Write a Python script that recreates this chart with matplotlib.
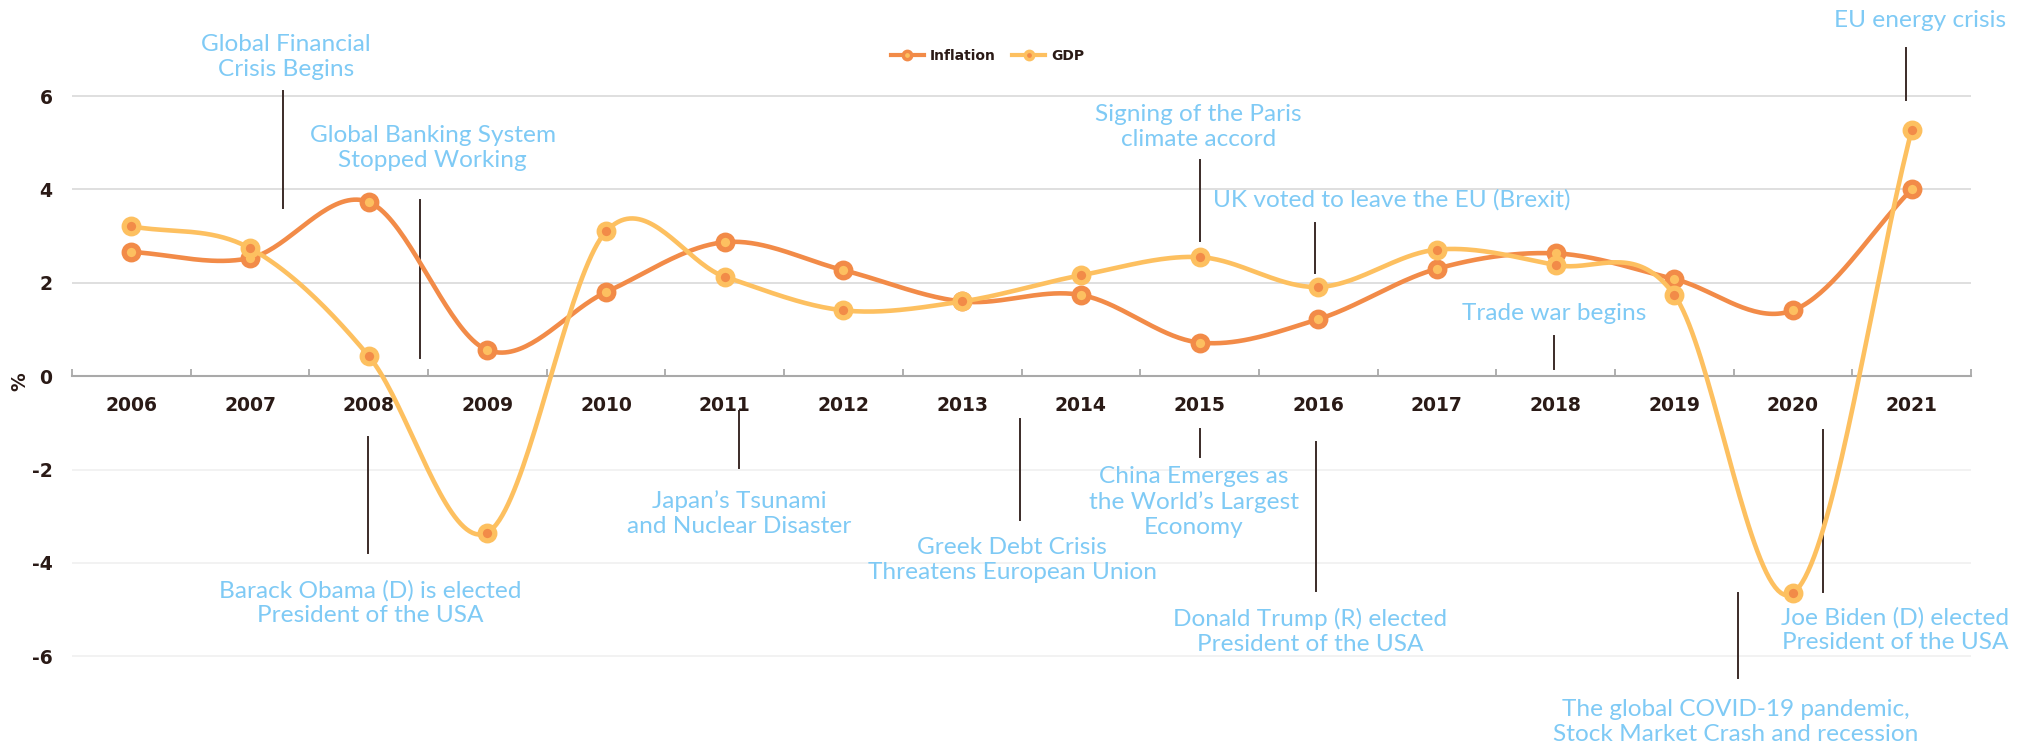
import numpy as np
import matplotlib
matplotlib.use("Agg")
import matplotlib.pyplot as plt
from matplotlib.lines import Line2D

# values
years = ["2006", "2007", "2008", "2009", "2010", "2011", "2012", "2013",
         "2014", "2015", "2016", "2017", "2018", "2019", "2020", "2021"]
inflation = [2.66, 2.53, 3.73, 0.56, 1.80, 2.87, 2.27, 1.60,
             1.74, 0.72, 1.22, 2.30, 2.63, 2.08, 1.41, 4.00]
gdp = [3.21, 2.74, 0.43, -3.35, 3.10, 2.13, 1.41, 1.60,
       2.16, 2.55, 1.91, 2.71, 2.38, 1.74, -4.65, 5.27]
y_ticks = [-6, -4, -2, 0, 2, 4, 6]

# (text, text x, text y, leader x, leader y0, leader y1)
events = [
    ("Global Financial\nCrisis Begins", 1.30, 6.84, 1.28, 6.11, 3.60),
    ("Global Banking System\nStopped Working", 2.54, 4.89, 2.43, 3.77, 0.39),
    ("Barack Obama (D) is elected\nPresident of the USA", 2.01, -4.86, 1.99, -1.31, -3.79),
    ("Japan’s Tsunami\nand Nuclear Disaster", 5.12, -2.95, 5.12, -0.75, -1.97),
    ("Greek Debt Crisis\nThreatens European Union", 7.42, -3.94, 7.49, -0.92, -3.09),
    ("Signing of the Paris\nclimate accord", 8.99, 5.34, 9.00, 4.63, 2.89),
    ("UK voted to leave the EU (Brexit)", 10.62, 3.77, 9.97, 3.28, 2.21),
    ("China Emerges as\nthe World’s Largest\nEconomy", 8.95, -2.70, 9.00, -1.14, -1.74),
    ("Donald Trump (R) elected\nPresident of the USA", 9.93, -5.47, 9.98, -1.41, -4.61),
    ("Trade war begins", 11.99, 1.35, 11.99, 0.86, 0.15),
    ("The global COVID-19 pandemic,\nStock Market Crash and recession", 13.52, -7.40, 13.54, -4.65, -6.47),
    ("Joe Biden (D) elected\nPresident of the USA", 14.86, -5.44, 14.25, -1.16, -4.63),
    ("EU energy crisis", 15.07, 7.61, 14.95, 7.03, 5.91),
]

c_inf = "#F28B48"
c_gdp = "#FDC060"
c_text = "#7FCAF5"
c_dark = "#2A1A16"
c_lead = "#3B2B28"


def smooth(y, n=40):
    # catmull-rom style cubic hermite through the points
    y = np.asarray(y, dtype=float)
    m = np.empty_like(y)
    m[1:-1] = (y[2:] - y[:-2]) / 2
    m[0] = y[1] - y[0]
    m[-1] = y[-1] - y[-2]
    xs, ys = [], []
    for i in range(len(y) - 1):
        t = np.linspace(0, 1, n, endpoint=(i == len(y) - 2))
        h00 = 2 * t**3 - 3 * t**2 + 1
        h10 = t**3 - 2 * t**2 + t
        h01 = -2 * t**3 + 3 * t**2
        h11 = t**3 - t**2
        xs.append(i + t)
        ys.append(h00 * y[i] + h10 * m[i] + h01 * y[i + 1] + h11 * m[i + 1])
    return np.concatenate(xs), np.concatenate(ys)


fig = plt.figure(figsize=(20.26, 7.47), dpi=100)
ax = fig.add_axes([72 / 2026, 44 / 747, 1899 / 2026, 677 / 747])
ax.set_xlim(-0.5, 15.5)
ax.set_ylim(-7, 7.5)

for v in y_ticks:
    if v == 0:
        continue
    ax.axhline(v, color="#DCDCDC" if v > 0 else "#F1F1F1", lw=1.3, zorder=0)

x = np.arange(len(years))
sx, sy = smooth(inflation)
ax.plot(sx, sy, color=c_inf, lw=3.3, zorder=3, solid_capstyle="round")
ax.plot(x, inflation, ls="none", marker="o", ms=10.5, mfc=c_gdp, mec=c_inf, mew=3.8, zorder=4)
sx, sy = smooth(gdp)
ax.plot(sx, sy, color=c_gdp, lw=3.3, zorder=5, solid_capstyle="round")
ax.plot(x, gdp, ls="none", marker="o", ms=10.5, mfc=c_inf, mec=c_gdp, mew=3.8, zorder=6)

for txt, tx, ty, lx, ly0, ly1 in events:
    ax.plot([lx, lx], [ly0, ly1], color=c_lead, lw=1.4, zorder=2, clip_on=False)
    ax.text(tx, ty, txt, ha="center", va="center", color=c_text, fontsize=17.6,
            family="Lato", fontweight="normal", linespacing=1.22, clip_on=False)

# axis styling
for s in ["top", "right", "left"]:
    ax.spines[s].set_visible(False)
ax.spines["bottom"].set_position(("data", 0))
ax.spines["bottom"].set_color("#A9A9A9")
ax.spines["bottom"].set_linewidth(1.5)
ax.set_xticks(x)
ax.set_xticklabels(years, fontsize=13.5, fontweight="bold", color=c_dark)
ax.set_xticks(np.arange(-0.5, 16, 1), minor=True)
ax.tick_params(axis="x", which="major", length=0, pad=14)
ax.tick_params(axis="x", which="minor", direction="in", length=5, width=1.3, color="#A9A9A9")
ax.set_yticks(y_ticks)
ax.set_yticklabels([str(v) for v in y_ticks], fontsize=13.5, fontweight="bold", color=c_dark)
ax.tick_params(axis="y", length=0, pad=14)

fig.text(20 / 2026, 1 - 382 / 747, "%", rotation=90, ha="center", va="center",
         fontsize=13.5, fontweight="bold", color=c_dark)

handles = [
    Line2D([], [], color=c_inf, lw=3, marker="o", ms=6, mfc=c_gdp, mec=c_inf, mew=2.5),
    Line2D([], [], color=c_gdp, lw=3, marker="o", ms=6, mfc=c_inf, mec=c_gdp, mew=2.5),
]
leg = ax.legend(handles, ["Inflation", "GDP"], loc="center", bbox_to_anchor=(0.482, 0.956),
                ncol=2, frameon=False, handlelength=2.4, columnspacing=1.2, handletextpad=0.4,
                prop={"weight": "bold", "size": 10})
for t in leg.get_texts():
    t.set_color(c_dark)

fig.savefig("out.png", dpi=100)
